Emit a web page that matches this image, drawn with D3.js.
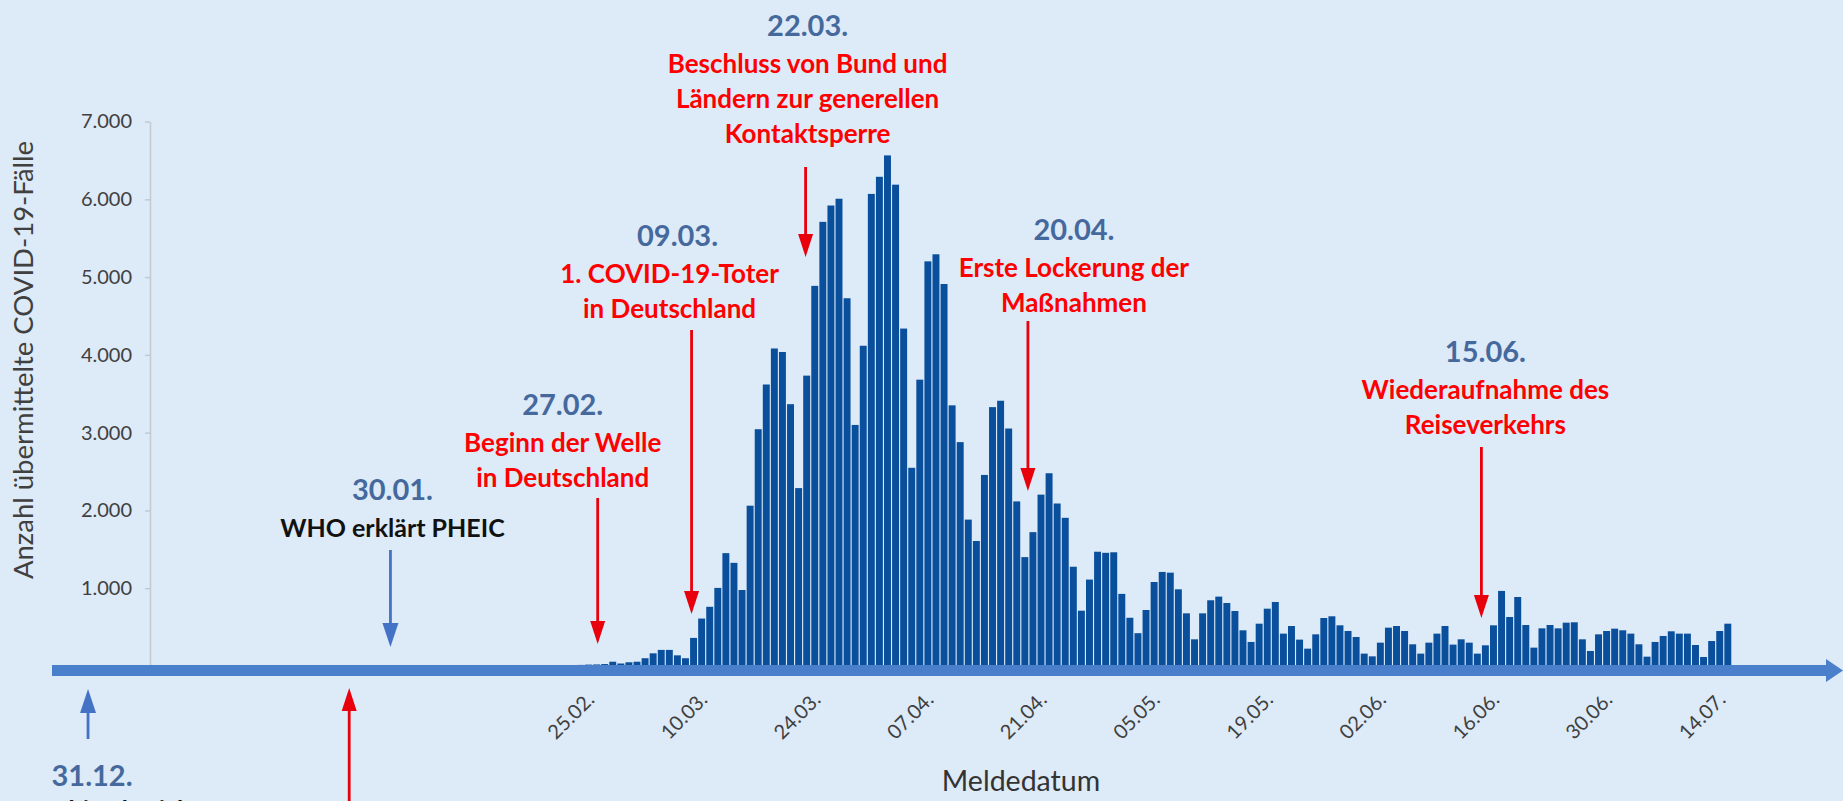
<!DOCTYPE html>
<html>
<head>
<meta charset="utf-8">
<script src="https://cdn.jsdelivr.net/npm/d3@7"></script>
<style>
  html, body { margin: 0; padding: 0; background: #ddeaf7; }
  svg { display: block; font-family: Lato, "Open Sans", "DejaVu Sans", sans-serif; }
</style>
</head>
<body>
<svg id="chart" width="1843" height="801"></svg>
<script>
// ---------------- DATA ----------------
const axisStart = "2019-12-31";
const axisEnd = "2020-07-15";
const startDate = "2020-02-19";          // first day of the series below
const cases = [
  3, 4, 5, 8, 10, 14, 18, 20, 25,                 // 19.02.–27.02.
  55, 32, 48, 55, 100, 163, 207, 207, 137, 100,   // 28.02.–08.03.
  361, 610, 761, 1004, 1451, 1326, 977,           // 09.03.–15.03.
  2061, 3044, 3619, 4082, 4037, 3366, 2287,       // 16.03.–22.03.
  3733, 4887, 5710, 5920, 6007, 4728, 3099,       // 23.03.–29.03.
  4117, 6069, 6289, 6564, 6188, 4338, 2548,       // 30.03.–05.04.
  3681, 5202, 5293, 4911, 3351, 2878, 1882,       // 06.04.–12.04.
  1607, 2456, 3328, 3410, 3053, 2116, 1400,       // 13.04.–19.04.
  1721, 2203, 2478, 2089, 1905, 1276, 711,        // 20.04.–26.04.
  1111, 1469, 1455, 1462, 927, 620, 422,          // 27.04.–03.05.
  720, 1080, 1209, 1200, 986, 677, 343,           // 04.05.–10.05.
  677, 845, 892, 810, 707, 459, 309,              // 11.05.–17.05.
  544, 737, 823, 416, 514, 339, 223,              // 18.05.–24.05.
  407, 617, 639, 523, 450, 373, 159,              // 25.05.–31.05.
  124, 300, 493, 514, 450, 279, 159,              // 01.06.–07.06.
  300, 416, 514, 275, 343, 300, 159,              // 08.06.–14.06.
  266, 523, 965, 630, 887, 527, 236,              // 15.06.–21.06.
  484, 527, 484, 557, 562, 343, 193,              // 22.06.–28.06.
  407, 450, 480, 459, 416, 279, 120,              // 29.06.–05.07.
  309, 386, 446, 416, 416, 270, 116,              // 06.07.–12.07.
  321, 450, 544                                   // 13.07.–15.07.
];
const xTickDates = ["2020-02-25", "2020-03-10", "2020-03-24", "2020-04-07", "2020-04-21",
                    "2020-05-05", "2020-05-19", "2020-06-02", "2020-06-16", "2020-06-30", "2020-07-14"];
const xTickLabels = ["25.02.", "10.03.", "24.03.", "07.04.", "21.04.", "05.05.",
                     "19.05.", "02.06.", "16.06.", "30.06.", "14.07."];
const yTickValues = [1000, 2000, 3000, 4000, 5000, 6000, 7000];
const yDomainMax = 7000;
const yTitle = "Anzahl übermittelte COVID-19-Fälle";
const xTitle = "Meldedatum";

const eventDates = ["2020-03-22", "2020-03-09", "2020-02-27", "2020-04-20", "2020-06-15", "2020-01-30", "2019-12-31", "2020-01-27"];
const eventHeads = ["22.03.", "09.03.", "27.02.", "20.04.", "15.06.", "30.01.", "31.12.", ""];
const eventTexts = [
  ["Beschluss von Bund und", "Ländern zur generellen", "Kontaktsperre"],
  ["1. COVID-19-Toter", "in Deutschland"],
  ["Beginn der Welle", "in Deutschland"],
  ["Erste Lockerung der", "Maßnahmen"],
  ["Wiederaufnahme des", "Reiseverkehrs"],
  ["WHO erklärt PHEIC"],
  ["China berichtet"],
  []
];
const eventKinds = ["red", "red", "red", "red", "red", "blue", "blue", "red"];

// ---------------- LAYOUT ----------------
const W = 1843, H = 801;
const C = {
  bg: "#ddeaf7", bar: "#0a4f9c", band: "#4a7fcb", grid: "#c3c9d0",
  tick: "#404040", title: "#333333", date: "#45699d",
  redText: "#ff0000", redArrow: "#e8000d", blueArrow: "#4472c4", black: "#111111"
};
const parse = d3.timeParse("%Y-%m-%d");
const key = d3.timeFormat("%Y-%m-%d");

const allDays = d3.timeDay.range(parse(axisStart), d3.timeDay.offset(parse(axisEnd), 1)).map(key);
const step = 8.08, x0 = 132;
const x = d3.scaleBand().domain(allDays)
  .range([x0, x0 + allDays.length * step])
  .paddingInner(0.14).paddingOuter(0.07);
const xc = k => x(k) + x.bandwidth() / 2;

const y = d3.scaleLinear().domain([0, yDomainMax]).range([666, 121.5]);

const series = cases.map((v, i) => ({ date: key(d3.timeDay.offset(parse(startDate), i)), value: v }));

const svg = d3.select("#chart");
svg.append("rect").attr("width", W).attr("height", H).attr("fill", C.bg);

// y axis
const de = d3.formatLocale({ decimal: ",", thousands: ".", grouping: [3], currency: ["", "€"] });
const yAxis = d3.axisLeft(y).tickValues(yTickValues).tickFormat(de.format(",")).tickSize(5).tickSizeOuter(0).tickPadding(13);
const gy = svg.append("g").attr("transform", "translate(150,0)").call(yAxis);
gy.select(".domain").attr("stroke", C.grid).attr("stroke-width", 1.5);
gy.selectAll(".tick line").attr("stroke", C.grid).attr("stroke-width", 1.5);
gy.selectAll(".tick text").attr("fill", C.tick).style("font-size", "20px").attr("font-family", "Lato");

// bars
svg.append("g").selectAll("rect").data(series).join("rect")
  .attr("x", d => x(d.date))
  .attr("width", x.bandwidth())
  .attr("y", d => y(d.value))
  .attr("height", d => y(0) - y(d.value))
  .attr("fill", C.bar);

// axis band with arrow
const y0 = y(0);
const bandPath = d3.path();
bandPath.moveTo(52, y0 - 1);
bandPath.lineTo(1826, y0 - 1);
bandPath.lineTo(1826, y0 - 7);
bandPath.lineTo(1843, y0 + 4.5);
bandPath.lineTo(1826, y0 + 16);
bandPath.lineTo(1826, y0 + 10);
bandPath.lineTo(52, y0 + 10);
bandPath.closePath();
svg.append("path").attr("d", bandPath.toString()).attr("fill", C.band);

// x tick labels
const xAxis = d3.axisBottom(x).tickValues(xTickDates).tickFormat((d, i) => xTickLabels[i]).tickSize(0);
const gx = svg.append("g").attr("transform", `translate(0,${y0})`).call(xAxis);
gx.select(".domain").remove();
gx.selectAll(".tick text")
  .attr("x", 0).attr("y", 0).attr("dy", 0)
  .attr("transform", "translate(7,35) rotate(-45)")
  .attr("text-anchor", "end")
  .attr("fill", C.tick).style("font-size", "20px").attr("font-family", "Lato");

// titles
svg.append("text").attr("transform", "translate(33,360) rotate(-90)")
  .attr("text-anchor", "middle").attr("fill", C.tick).style("font-size", "27.5px").text(yTitle);
svg.append("text").attr("x", 1021).attr("y", 791)
  .attr("text-anchor", "middle").attr("fill", C.title).style("font-size", "28.5px").text(xTitle);

// annotations (layout per event, same order as eventDates)
const annLayout = [
  { adx: 7,   tdx: 2,   hdx: 0,  head: 36,  a1: 167, a2: 257 },
  { adx: -2,  tdx: -22, hdx: 8,  head: 246, a1: 330, a2: 614 },
  { adx: -7,  tdx: -35, hdx: 0,  head: 415, a1: 498, a2: 644 },
  { adx: -5,  tdx: 46,  hdx: 0,  head: 240, a1: 321, a2: 491 },
  { adx: -4,  tdx: 4,   hdx: 0,  head: 362, a1: 447, a2: 618 },
  { adx: 12,  tdx: 2,   hdx: 0,  head: 500, a1: 550, a2: 647 },
  { adx: -48, tdx: 4,   hdx: 0,  head: 786, a1: 739, a2: 689 },
  { adx: -5,  tdx: 0,   hdx: 0,  head: 0,   a1: 830, a2: 688 }
];
const ga = svg.append("g");
eventDates.forEach((dt, i) => {
  const L = annLayout[i];
  const ax = xc(dt) + L.adx;
  const tx = ax + L.tdx;
  const red = eventKinds[i] === "red";
  const col = red ? C.redArrow : C.blueArrow;
  const dir = L.a2 > L.a1 ? 1 : -1;
  const headLen = red ? 23 : 24, halfW = red ? 7.5 : 8;
  ga.append("line").attr("x1", ax).attr("x2", ax).attr("y1", L.a1).attr("y2", L.a2 - dir * headLen * 0.8)
    .attr("stroke", col).attr("stroke-width", 2.8);
  ga.append("path")
    .attr("d", `M${ax},${L.a2} L${ax - halfW},${L.a2 - dir * headLen} L${ax + halfW},${L.a2 - dir * headLen} Z`)
    .attr("fill", col);
  if (eventHeads[i]) {
    ga.append("text").attr("x", tx + L.hdx).attr("y", L.head).attr("text-anchor", "middle")
      .attr("fill", C.date).style("font-size", "29px").style("font-weight", 700).text(eventHeads[i]);
  }
  eventTexts[i].forEach((t, j) => {
    const isChina = dt === "2019-12-31";
    ga.append("text")
      .attr("x", isChina ? 52 : tx)
      .attr("y", isChina ? 819 : L.head + 37 + j * 35)
      .attr("text-anchor", isChina ? "start" : "middle")
      .attr("fill", red ? C.redText : C.black)
      .style("font-size", red ? "26px" : "25px").style("font-weight", 700)
      .text(t);
  });
});
</script>
</body>
</html>
